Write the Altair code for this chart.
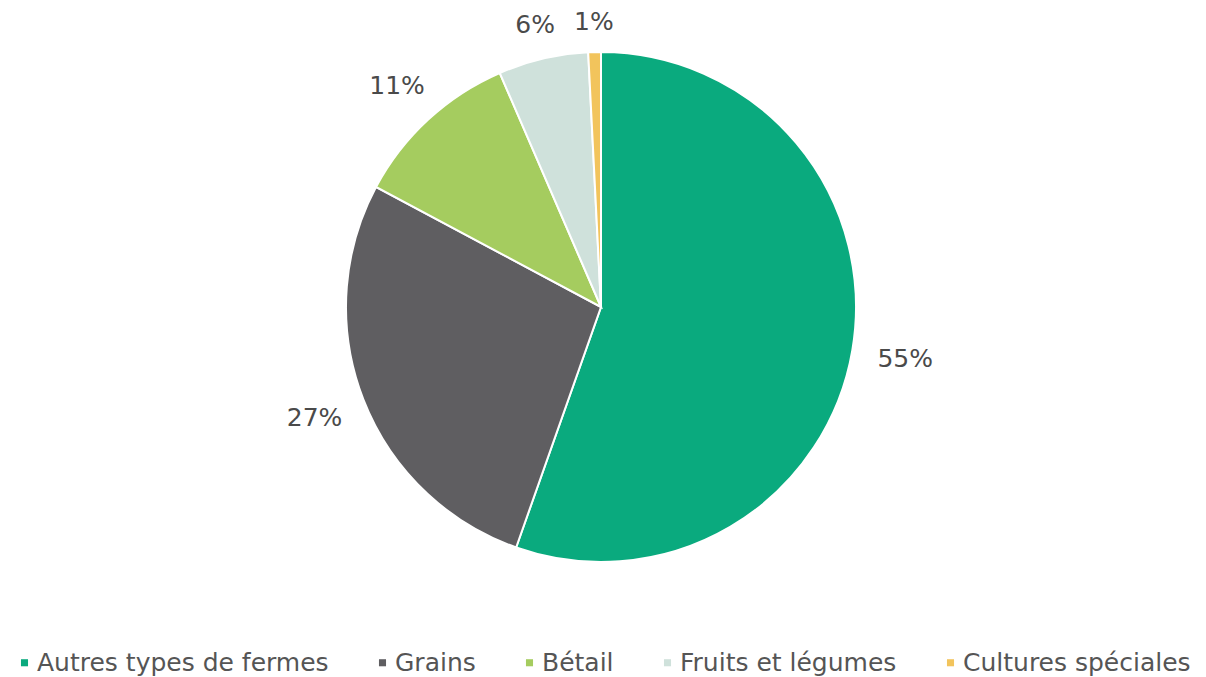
import altair as alt
import pandas as pd

categories = ["Autres types de fermes", "Grains", "Bétail", "Fruits et légumes", "Cultures spéciales"]
values = [55.4, 27.4, 10.7, 5.7, 0.8]
labels = ["55%", "27%", "11%", "6%", "1%"]
colors = ["#0aaa7e", "#5f5e61", "#a5cc5f", "#cfe1db", "#f2c45c"]

df = pd.DataFrame({
    "cat": categories,
    "val": values,
    "label": labels,
    "ord": list(range(len(categories))),
})

FONT = "DejaVu Sans"
cx, cy = 593, 299

pie = alt.Chart(df).mark_arc(radius=255, stroke="white", strokeWidth=2).encode(
    theta=alt.Theta("val:Q", stack=True),
    order=alt.Order("ord:Q"),
    x=alt.value(cx),
    y=alt.value(cy),
    color=alt.Color(
        "cat:N",
        scale=alt.Scale(domain=categories, range=colors),
        legend=alt.Legend(
            title=None,
            orient="none",
            legendX=4,
            legendY=642,
            direction="horizontal",
            columns=5,
            symbolType="square",
            symbolSize=50,
            symbolStrokeWidth=0,
            labelFont=FONT,
            labelFontSize=25,
            labelColor="#555555",
            labelLimit=400,
            columnPadding=41,
            labelOffset=0,
        ),
    ),
)

# labels sit at each slice's mid-angle, a bit further out beside the pie (wider text)
text = (
    alt.Chart(df)
    .transform_joinaggregate(total="sum(val)")
    .transform_window(cum="sum(val)", sort=[alt.SortField("ord")])
    .transform_calculate(mid="(datum.cum - datum.val / 2) / datum.total * 2 * PI")
    .transform_calculate(r="284 + 25 * abs(sin(datum.mid))")
    .transform_calculate(
        px=f"{cx} + datum.r * sin(datum.mid)",
        py=f"{cy} - datum.r * cos(datum.mid)",
    )
    .mark_text(font=FONT, fontSize=25, color="#4a4a4a")
    .encode(
        x=alt.X("px:Q", scale=None, axis=None),
        y=alt.Y("py:Q", scale=None, axis=None),
        text="label:N",
    )
)

chart = (
    (pie + text)
    .properties(
        width=1190,
        height=668,
        padding=0,
        autosize=alt.AutoSizeParams(type="none"),
    )
    .configure_view(stroke=None)
)

chart.save("out.html", embed_options={"renderer": "svg", "actions": False})
